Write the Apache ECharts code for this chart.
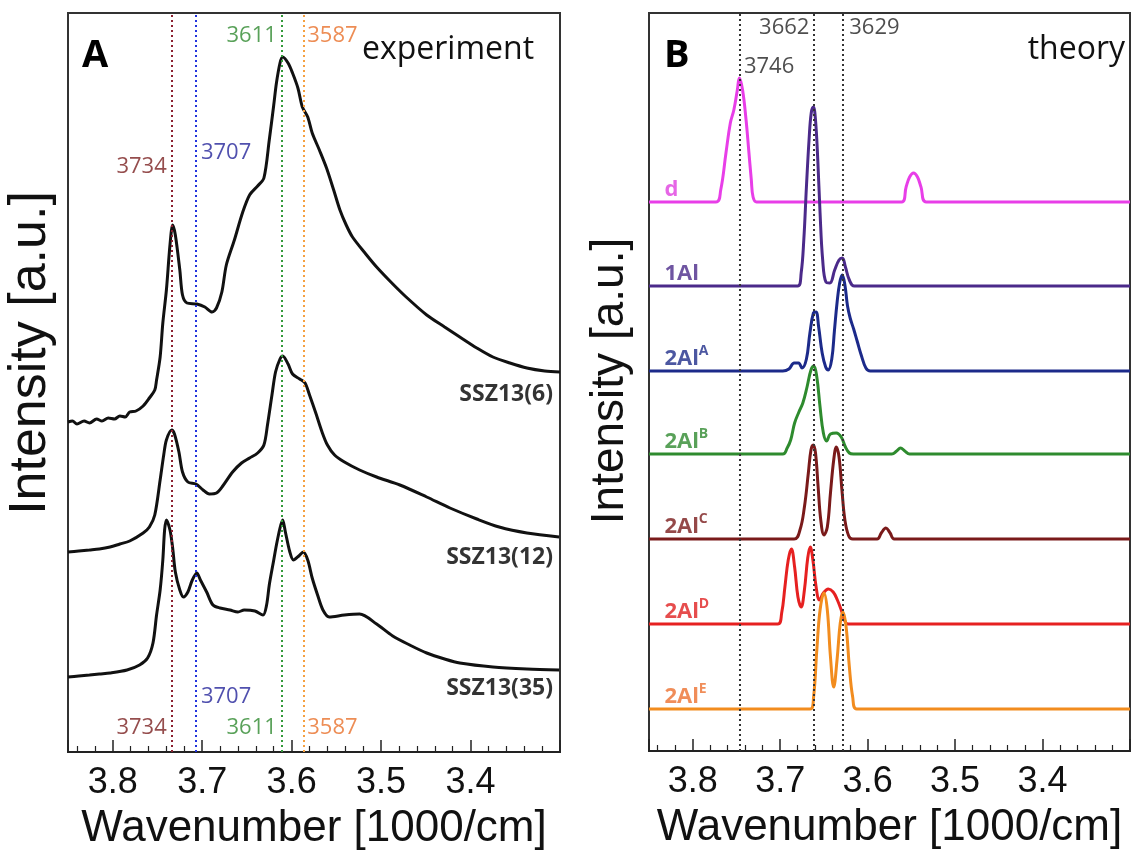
<!DOCTYPE html>
<html>
<head>
<meta charset="utf-8">
<script src="https://cdn.jsdelivr.net/npm/echarts@6/dist/echarts.min.js"></script>
<style>
  html, body { margin: 0; padding: 0; background: #fff; }
  #main { width: 1133px; height: 859px; }
</style>
</head>
<body>
<div id="main"></div>
<script>
// tick labels shared by both wavenumber axes
var tickLabels = ['3.8', '3.7', '3.6', '3.5', '3.4'];

// ---- A: experiment, [wavenumber (1000/cm), intensity (a.u., curves offset)]
var ssz13_6 = [[3.850,330],[3.845,331],[3.840,328],[3.832,331],[3.826,329],[3.818,333],[3.812,331],[3.805,334],[3.798,333],[3.792,336],[3.786,335],[3.781,340],[3.774,341],[3.766,346],[3.759,354],[3.753,362],[3.751,372],[3.747,395],[3.744,429],[3.740,462],[3.736,507],[3.733,527],[3.730,517],[3.725,482],[3.722,457],[3.717,449],[3.706,448],[3.697,445],[3.689,440],[3.684,444],[3.678,460],[3.673,487],[3.664,512],[3.655,539],[3.647,557],[3.638,566],[3.631,574],[3.625,612],[3.620,647],[3.617,669],[3.613,689],[3.610,695],[3.604,689],[3.599,679],[3.593,664],[3.588,645],[3.582,635],[3.577,619],[3.569,602],[3.561,584],[3.553,562],[3.546,542],[3.539,527],[3.532,515],[3.518,499],[3.505,485],[3.488,469],[3.472,455],[3.449,437],[3.429,425],[3.412,415],[3.393,404],[3.375,395],[3.356,389],[3.337,384],[3.317,381],[3.300,380]];
var ssz13_12 = [[3.850,200],[3.838,201],[3.826,202],[3.815,203],[3.803,205],[3.792,208],[3.781,211],[3.766,219],[3.759,225],[3.753,237],[3.747,272],[3.743,297],[3.740,312],[3.734,322],[3.731,318],[3.726,300],[3.722,280],[3.716,270],[3.707,268],[3.699,262],[3.692,258],[3.684,259],[3.677,266],[3.666,280],[3.656,289],[3.647,294],[3.638,299],[3.631,307],[3.627,327],[3.622,357],[3.618,380],[3.613,393],[3.610,396],[3.604,388],[3.599,378],[3.591,373],[3.585,369],[3.580,357],[3.573,339],[3.566,320],[3.560,307],[3.552,297],[3.541,290],[3.524,282],[3.505,275],[3.479,267],[3.449,255],[3.423,244],[3.393,233],[3.368,225],[3.337,219],[3.301,215]];
var ssz13_35 = [[3.850,75],[3.838,76],[3.826,77],[3.815,78],[3.803,79],[3.784,82],[3.770,87],[3.761,94],[3.755,109],[3.751,137],[3.747,162],[3.744,192],[3.742,222],[3.740,232],[3.736,222],[3.733,204],[3.730,180],[3.725,162],[3.721,155],[3.716,160],[3.711,172],[3.706,179],[3.702,172],[3.695,160],[3.688,147],[3.680,144],[3.669,142],[3.660,140],[3.653,142],[3.641,141],[3.632,137],[3.628,147],[3.625,167],[3.620,192],[3.617,207],[3.613,224],[3.610,232],[3.607,220],[3.602,200],[3.598,192],[3.592,196],[3.587,200],[3.582,192],[3.577,174],[3.571,157],[3.565,142],[3.558,135],[3.541,137],[3.524,138],[3.505,128],[3.487,116],[3.468,107],[3.449,99],[3.429,93],[3.412,89],[3.375,85],[3.337,83],[3.301,82]];
var expNames = ['SSZ13(6)', 'SSZ13(12)', 'SSZ13(35)'];
var expPeaks = [3.734, 3.707, 3.611, 3.587];
var expPeakNames = ['3734', '3707', '3611', '3587'];

// ---- B: theory
var thD    = [[3.850,549],[3.7735,549],[3.768,561],[3.762,598],[3.757,628],[3.753,641],[3.749,661],[3.7467,673],[3.743,661],[3.739,631],[3.736,601],[3.733,571],[3.731,554],[3.727,549],[3.561,549],[3.556,564],[3.552,574],[3.5475,578],[3.543,574],[3.539,564],[3.533,549],[3.300,549]];
var th1Al  = [[3.850,465],[3.680,465],[3.676,478],[3.673,511],[3.670,564],[3.667,611],[3.6645,638],[3.662,644],[3.6596,631],[3.657,591],[3.6544,538],[3.6514,491],[3.6477,469],[3.6432,468],[3.6377,481],[3.6327,491],[3.629,493],[3.6254,484],[3.6209,471],[3.6153,465],[3.300,465]];
var th2AlA = [[3.850,380],[3.697,380],[3.690,382],[3.684,388],[3.679,388],[3.675,383],[3.670,392],[3.666,418],[3.662,438],[3.659,439],[3.656,424],[3.652,398],[3.648,384],[3.645,381],[3.641,392],[3.638,420],[3.635,448],[3.632,468],[3.629,476],[3.626,466],[3.623,445],[3.620,433],[3.616,422],[3.612,410],[3.607,395],[3.602,383],[3.597,380],[3.300,380]];
var th2AlB = [[3.850,297],[3.697,297],[3.692,303],[3.688,311],[3.6835,328],[3.6786,339],[3.6741,348],[3.6693,364],[3.6648,381],[3.6615,385],[3.6581,374],[3.6544,344],[3.6506,318],[3.6469,310],[3.6425,317],[3.6358,318],[3.6302,314],[3.6254,304],[3.6209,298],[3.6164,297],[3.5724,297],[3.5668,300],[3.5624,303],[3.5575,300],[3.5520,297],[3.300,297]];
var th2AlC = [[3.850,212],[3.6841,212],[3.6774,221],[3.6723,244],[3.6678,278],[3.6648,301],[3.6622,306],[3.6596,298],[3.6566,264],[3.6536,231],[3.6499,216],[3.6461,224],[3.6425,258],[3.6388,291],[3.6358,304],[3.6327,294],[3.6294,261],[3.626,231],[3.6216,215],[3.6171,212],[3.5892,212],[3.5844,218],[3.5791,223],[3.5743,218],[3.5695,212],[3.300,212]];
var th2AlD = [[3.850,127],[3.7028,127],[3.6983,138],[3.6946,164],[3.6908,191],[3.6872,202],[3.6835,184],[3.6797,154],[3.676,144],[3.6723,161],[3.6685,193],[3.6656,204],[3.6626,191],[3.6589,164],[3.6551,151],[3.6506,158],[3.645,162],[3.6394,159],[3.6346,151],[3.6302,141],[3.6265,131],[3.6227,127],[3.300,127]];
var th2AlE = [[3.850,42],[3.6656,42],[3.6618,54],[3.6581,101],[3.6544,141],[3.6499,158],[3.6461,141],[3.6425,94],[3.6388,64],[3.635,91],[3.6313,128],[3.6283,139],[3.6246,124],[3.6209,84],[3.6171,54],[3.6126,42],[3.300,42]];
var theoryNames = ['d', '1Al', '2Al', '2Al', '2Al', '2Al', '2Al'];
var theorySup = ['', '', 'A', 'B', 'C', 'D', 'E'];
var theoryPeaks = [3.746, 3.662, 3.629];
var theoryPeakNames = ['3746', '3662', '3629'];

var chart = echarts.init(document.getElementById('main'));
var hel = '"Liberation Sans", Arial, sans-serif';
var cal = '"Open Sans", "Noto Sans", sans-serif';

var expCurves = [ssz13_6, ssz13_12, ssz13_35];
var thCurves = [thD, th1Al, th2AlA, th2AlB, th2AlC, th2AlD, th2AlE];
var thColors = ['#e83ee8', '#4b2a8a', '#1c2a8a', '#2e8b2e', '#7a1a1a', '#e62020', '#f28c1e'];
var thLabelColors = ['#e040e0', '#4b2a8a', '#1f2d8a', '#2f8a2f', '#7a1c1c', '#e02020', '#ec7030'];
var expLineColors = ['#8b2030', '#2233dd', '#33993a', '#f5a040'];
var expTextColors = ['#7a2020', '#24249a', '#2f8a2f', '#e8702a'];

function xAxisOf(g) {
  return {
    type: 'value', gridIndex: g, inverse: true, min: 3.3, max: 3.85, interval: 0.1,
    name: 'Wavenumber [1000/cm]', nameLocation: 'middle', nameGap: 55,
    nameTextStyle: { fontFamily: hel, fontSize: 44, color: '#111' },
    axisLine: { show: true, onZero: false, lineStyle: { color: '#222', width: 2 } },
    axisTick: { show: true, inside: true, length: 12, lineStyle: { color: '#222', width: 1.5 } },
    minorTick: { show: true, splitNumber: 5, length: 6, lineStyle: { color: '#222', width: 1.2 } },
    splitLine: { show: false },
    axisLabel: {
      fontFamily: hel, fontSize: 36, color: '#111', margin: 13,
      formatter: function (v) {
        var s = v.toFixed(1);
        return (Math.abs(v - parseFloat(s)) < 1e-6 && tickLabels.indexOf(s) >= 0) ? s : '';
      }
    }
  };
}
function yAxisOf(g, max) {
  return { type: 'value', gridIndex: g, min: 0, max: max, show: false };
}
function note(x, y, text, color, pos, dist, size, weight) {
  return {
    value: [x, y],
    label: { show: true, formatter: text, color: color, position: pos, distance: dist,
      fontFamily: cal, fontSize: size || 22, fontWeight: weight || 'normal' }
  };
}
function peakLines(peaks, colors) {
  return { silent: true, symbol: ['none', 'none'], precision: 4, label: { show: false },
    data: peaks.map(function (p, k) {
      return { xAxis: p, lineStyle: { color: colors[k], type: [2, 3], width: 2 } };
    }) };
}

var series = [];
expCurves.forEach(function (c) {
  series.push({ type: 'line', xAxisIndex: 0, yAxisIndex: 0, data: c, symbol: 'none', smooth: 0.3,
    lineStyle: { color: '#111', width: 3 } });
});
thCurves.forEach(function (c, i) {
  series.push({ type: 'line', xAxisIndex: 1, yAxisIndex: 1, data: c, symbol: 'none', smooth: 0.4,
    lineStyle: { color: thColors[i], width: 3 } });
});

// annotation texts anchored in data coordinates
var expNotes = [
  note(expPeaks[0], 585, expPeakNames[0], expTextColors[0], 'left', 5),
  note(expPeaks[1], 599, expPeakNames[1], expTextColors[1], 'right', 5),
  note(expPeaks[2], 716, expPeakNames[2], expTextColors[2], 'left', 5),
  note(expPeaks[3], 716, expPeakNames[3], expTextColors[3], 'right', 4),
  note(expPeaks[0], 24, expPeakNames[0], expTextColors[0], 'left', 5),
  note(expPeaks[1], 55, expPeakNames[1], expTextColors[1], 'right', 5),
  note(expPeaks[2], 24, expPeakNames[2], expTextColors[2], 'left', 5),
  note(expPeaks[3], 24, expPeakNames[3], expTextColors[3], 'right', 4),
  note(3.3, 358, expNames[0], '#000', 'left', 7, 23, 'bold'),
  note(3.3, 195, expNames[1], '#000', 'left', 7, 23, 'bold'),
  note(3.3, 64, expNames[2], '#000', 'left', 7, 23, 'bold')
];
series.push({ type: 'scatter', xAxisIndex: 0, yAxisIndex: 0, symbolSize: 0, silent: true,
  data: expNotes, markLine: peakLines(expPeaks, expLineColors) });

var thNotes = [
  note(theoryPeaks[0], 684, theoryPeakNames[0], '#222', 'right', 4),
  note(theoryPeaks[1], 723, theoryPeakNames[1], '#222', 'left', 4),
  note(theoryPeaks[2], 723, theoryPeakNames[2], '#222', 'right', 7)
];
thCurves.forEach(function (c, i) {
  var rich = {
    b: { fontFamily: cal, fontSize: 22, fontWeight: 'bold', color: thLabelColors[i], lineHeight: 26, verticalAlign: 'bottom' },
    s: { fontFamily: cal, fontSize: 14, fontWeight: 'bold', color: thLabelColors[i], lineHeight: 16, verticalAlign: 'top' }
  };
  thNotes.push({
    value: [3.8324, c[0][1] + 14],
    label: { show: true, position: 'right', distance: 0, rich: rich,
      formatter: '{b|' + theoryNames[i] + '}' + (theorySup[i] ? '{s|' + theorySup[i] + '}' : '') }
  });
});
series.push({ type: 'scatter', xAxisIndex: 1, yAxisIndex: 1, symbolSize: 0, silent: true,
  data: thNotes, markLine: peakLines(theoryPeaks, ['#333', '#333', '#333']) });

var option = {
  animation: false,
  backgroundColor: '#fff',
  grid: [
    { left: 68, top: 13, width: 492, height: 739, show: true, borderColor: '#333', borderWidth: 2 },
    { left: 649, top: 13, width: 492, height: 738, show: true, borderColor: '#333', borderWidth: 2 }
  ],
  xAxis: [xAxisOf(0), xAxisOf(1)],
  yAxis: [yAxisOf(0, 739), yAxisOf(1, 738)],
  series: series,
  graphic: [
    { type: 'text', x: 31, y: 353, rotation: Math.PI / 2,
      style: { text: 'Intensity [a.u.]', font: '52px ' + hel, fill: '#111', align: 'center', verticalAlign: 'middle' } },
    { type: 'text', x: 610, y: 381, rotation: Math.PI / 2,
      style: { text: 'Intensity [a.u.]', font: '46px ' + hel, fill: '#111', align: 'center', verticalAlign: 'middle' } },
    { type: 'text', x: 82, y: 56, style: { text: 'A', font: 'bold 38px ' + cal, fill: '#000', align: 'left', verticalAlign: 'middle' } },
    { type: 'text', x: 664, y: 56, style: { text: 'B', font: 'bold 38px ' + cal, fill: '#000', align: 'left', verticalAlign: 'middle' } },
    { type: 'text', x: 362, y: 50, style: { text: 'experiment', font: '32px ' + cal, fill: '#111', align: 'left', verticalAlign: 'middle' } },
    { type: 'text', x: 1125, y: 50, style: { text: 'theory', font: '32px ' + cal, fill: '#111', align: 'right', verticalAlign: 'middle' } }
  ]
};
chart.setOption(option);
</script>
</body>
</html>
